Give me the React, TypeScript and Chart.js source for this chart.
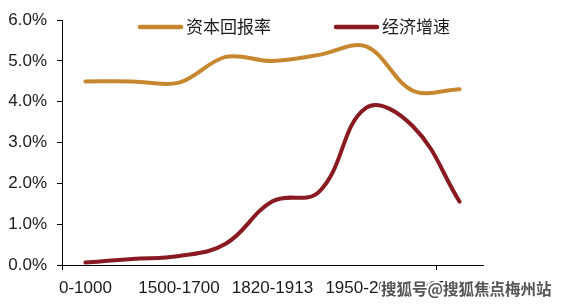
import React, { useEffect, useRef } from "react";
import { Chart, registerables } from "chart.js";

Chart.register(...registerables);

const categories = [
  "0-1000",
  "1000-1500",
  "1500-1700",
  "1700-1820",
  "1820-1913",
  "1913-1950",
  "1950-2012",
  "2012-2050",
  "2050-2100",
];
const returnOnCapital = [4.5, 4.5, 4.47, 5.1, 5.0, 5.15, 5.36, 4.27, 4.31];
const economicGrowth = [0.06, 0.15, 0.22, 0.52, 1.56, 1.8, 3.85, 3.4, 1.55];
const yTickValues = [0, 1, 2, 3, 4, 5, 6];
const seriesNames = ["资本回报率", "经济增速"];
const watermarkText = "搜狐号@搜狐焦点梅州站";

const ORANGE = "#C6872F";
const RED = "#8A1A22";

const legendPlugin = {
  id: "customLegend",
  afterDraw(chart: any) {
    const ctx = chart.ctx;
    ctx.save();
    const items = [
      { x: 140, color: ORANGE, name: seriesNames[0] },
      { x: 336, color: RED, name: seriesNames[1] },
    ];
    items.forEach((it) => {
      ctx.strokeStyle = it.color;
      ctx.lineWidth = 4.5;
      ctx.lineCap = "round";
      ctx.beginPath();
      ctx.moveTo(it.x, 27);
      ctx.lineTo(it.x + 41, 27);
      ctx.stroke();
      ctx.fillStyle = "#1a1a1a";
      ctx.font = '17px "Noto Sans CJK SC"';
      ctx.textBaseline = "middle";
      ctx.textAlign = "left";
      ctx.fillText(it.name, it.x + 46, 27);
    });
    ctx.restore();
  },
};

const watermarkPlugin = {
  id: "watermark",
  afterDraw(chart: any) {
    const ctx = chart.ctx;
    ctx.save();
    ctx.font = 'bold 15.5px "Noto Sans CJK SC"';
    ctx.textBaseline = "middle";
    ctx.textAlign = "left";
    ctx.lineJoin = "round";
    ctx.strokeStyle = "#ffffff";
    ctx.lineWidth = 4;
    ctx.strokeText(watermarkText, 381, 289);
    ctx.fillStyle = "#555555";
    ctx.fillText(watermarkText, 381, 289);
    ctx.restore();
  },
};

export default function App() {
  const ref = useRef<HTMLCanvasElement | null>(null);

  useEffect(() => {
    if (!ref.current) return;
    const chart = new Chart(ref.current, {
      type: "line",
      data: {
        labels: categories,
        datasets: [
          {
            label: seriesNames[0],
            data: returnOnCapital,
            borderColor: ORANGE,
            backgroundColor: ORANGE,
            borderWidth: 4,
            pointRadius: 0,
            tension: 0.35,
            borderCapStyle: "round",
          },
          {
            label: seriesNames[1],
            data: economicGrowth,
            borderColor: RED,
            backgroundColor: RED,
            borderWidth: 4,
            pointRadius: 0,
            tension: 0.4,
            borderCapStyle: "round",
          },
        ],
      },
      options: {
        animation: false,
        responsive: false,
        maintainAspectRatio: false,
        layout: { padding: { top: 17, right: 80, left: 0, bottom: 0 } },
        plugins: {
          legend: { display: false },
          tooltip: { enabled: false },
        },
        scales: {
          x: {
            type: "category",
            offset: true,
            grid: {
              offset: true,
              drawOnChartArea: false,
              drawTicks: true,
              tickLength: 5,
              color: (c: any) =>
                c.index === 0 || c.index === 8 ? "#000" : "rgba(0,0,0,0)",
            },
            border: { display: true, color: "#000", width: 1 },
            ticks: {
              autoSkip: false,
              maxRotation: 0,
              padding: 8,
              color: "#1a1a1a",
              font: { family: "Liberation Sans", size: 17 },
              callback: (_v: any, i: number) => (i % 2 === 0 ? categories[i] : ""),
            },
            afterFit: (s: any) => {
              s.height = 39;
            },
          },
          y: {
            min: 0,
            max: 6,
            afterBuildTicks: (s: any) => {
              s.ticks = yTickValues.map((v) => ({ value: v }));
            },
            grid: {
              drawOnChartArea: false,
              drawTicks: true,
              tickLength: 5,
              color: "#000",
            },
            border: { display: true, color: "#000", width: 1 },
            ticks: {
              padding: 10,
              color: "#1a1a1a",
              font: { family: "Liberation Sans", size: 17 },
              callback: (v: any) => `${Number(v).toFixed(1)}%`,
            },
            afterFit: (s: any) => {
              s.width = 62;
            },
          },
        },
      },
      plugins: [legendPlugin, watermarkPlugin],
    });
    return () => chart.destroy();
  }, []);

  return (
    <div style={{ position: "absolute", left: 0, top: 0, width: 563, height: 304, background: "#fff" }}>
      <canvas ref={ref} width={563} height={304} style={{ width: 563, height: 304 }} />
    </div>
  );
}
